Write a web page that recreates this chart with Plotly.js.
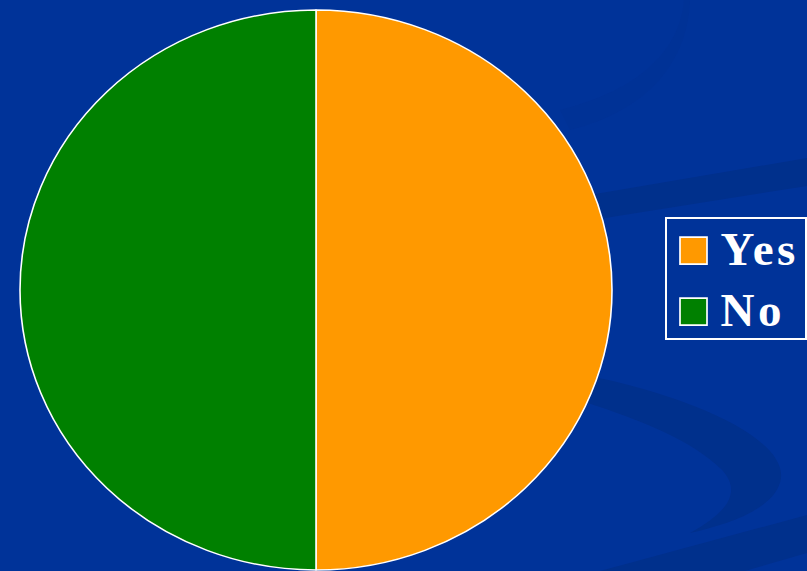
<!DOCTYPE html>
<html>
<head>
<meta charset="utf-8">
<script src="https://cdn.plot.ly/plotly-3.0.1.min.js"></script>
<style>html,body{margin:0;padding:0;background:#003399;}#chart{width:807px;height:571px;}</style>
</head>
<body>
<div id="chart"></div>
<script>
const labels = ["Yes", "No"];
const values = [50, 50];
const colors = ["#FF9900", "#008000"];

const W = 807, H = 571;
function P(pts) {
  return pts.replace(/(-?\d+(?:\.\d+)?),(-?\d+(?:\.\d+)?)/g, (m, x, y) =>
    (parseFloat(x) / W).toFixed(4) + ',' + (1 - parseFloat(y) / H).toFixed(4));
}
const swoosh = "#00308C";
const shapes = [
  {type: 'path', xref: 'paper', yref: 'paper', layer: 'below', line: {width: 0}, fillcolor: swoosh,
   path: P('M 560,200 L 807,158 L 807,186 L 580,222 Z')},
  {type: 'path', xref: 'paper', yref: 'paper', layer: 'below', line: {width: 0}, fillcolor: swoosh,
   path: P('M 585,375 C 700,398 785,440 781,478 C 777,508 730,524 690,533 C 728,512 742,492 722,470 C 692,440 640,420 585,402 Z')},
  {type: 'path', xref: 'paper', yref: 'paper', layer: 'below', line: {width: 0}, fillcolor: swoosh,
   path: P('M 600,571 L 807,515 L 807,553 L 745,571 Z')},
  {type: 'path', xref: 'paper', yref: 'paper', layer: 'below', line: {width: 0}, fillcolor: '#003296',
   path: P('M 560,110 C 640,90 680,50 684,0 L 690,0 C 688,60 650,110 570,130 Z')}
];

const data = [{
  type: 'pie',
  labels: labels,
  values: values,
  sort: false,
  direction: 'clockwise',
  rotation: 0,
  textinfo: 'none',
  hoverinfo: 'none',
  marker: {colors: colors, line: {color: '#FFFFFF', width: 1.5}},
  domain: {x: [0, 632 / 807], y: [1 - 570 / 571, 1 - 10 / 571]}
}];

const layout = {
  width: W, height: H,
  margin: {l: 0, r: 0, t: 0, b: 0},
  paper_bgcolor: '#003399',
  plot_bgcolor: '#003399',
  showlegend: true,
  shapes: shapes,
  legend: {
    x: 665 / 807, xanchor: 'left',
    y: 1 - 217 / 571, yanchor: 'top',
    bgcolor: 'rgba(0,0,0,0)',
    bordercolor: '#FFFFFF', borderwidth: 1.5,
    font: {family: 'Liberation Serif, Times New Roman, serif', size: 47, color: '#FFFFFF', weight: 'bold'},
    traceorder: 'normal'
  }
};

Plotly.newPlot('chart', data, layout, {staticPlot: true}).then(function(gd) {
  // stretch pie horizontally into the reference's slight ellipse
  const cx = 316, sx = 296 / 280;
  gd.querySelectorAll('.pielayer g.trace').forEach(g => {
    g.setAttribute('transform', 'translate(' + cx + ',0) scale(' + sx + ',1) translate(' + (-cx) + ',0)');
  });
  const leg = gd.querySelector('.legend');
  const sb = leg.querySelector('.scrollbox');
  if (sb) sb.removeAttribute('clip-path');
  const bg = leg.querySelector('rect.bg');
  if (bg) { bg.setAttribute('width', 140); bg.setAttribute('height', 121); }
  const items = leg.querySelectorAll('.traces');
  let y0 = null;
  items.forEach((t, i) => {
    const m = /translate\(([-\d.]+)[ ,]+([-\d.]+)\)/.exec(t.getAttribute('transform') || '');
    if (!m) return;
    const x = parseFloat(m[1]);
    if (y0 === null) y0 = parseFloat(m[2]) - 5;
    t.setAttribute('transform', 'translate(' + x + ',' + (y0 + i * 61) + ')');
  });
  leg.querySelectorAll('.legendtext').forEach(tx => {
    tx.setAttribute('x', 54);
    tx.setAttribute('transform', 'translate(0,-4)');
    tx.style.letterSpacing = '3.5px';
  });
  leg.querySelectorAll('.legendpoints path.legendpie').forEach(p => {
    p.setAttribute('transform', 'translate(27,0) scale(2.25)');
    p.style.strokeWidth = '0.75px';
  });
});
</script>
</body>
</html>
